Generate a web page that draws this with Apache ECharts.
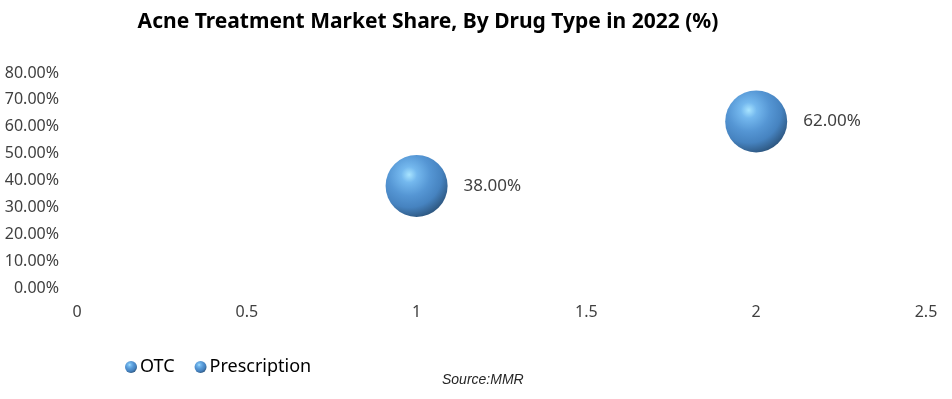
<!DOCTYPE html>
<html>
<head>
<meta charset="utf-8">
<script src="https://cdn.jsdelivr.net/npm/echarts@6/dist/echarts.min.js"></script>
<style>
  html, body { margin: 0; padding: 0; background: #fff; }
  #chart { width: 952px; height: 399px; }
</style>
</head>
<body>
<div id="chart"></div>
<script>
// data
var seriesNames = ['OTC', 'Prescription'];
var xValues = [1, 2];
var shares = [0.38, 0.62];
var xTicks = [0, 0.5, 1, 1.5, 2, 2.5];

var font = 'Noto Sans';

// shiny sphere look
function ball() {
  return new echarts.graphic.RadialGradient(0.38, 0.32, 0.85, [
    { offset: 0, color: '#a8e4ff' },
    { offset: 0.15, color: '#74b8ee' },
    { offset: 0.4, color: '#5596d4' },
    { offset: 0.62, color: '#4683c0' },
    { offset: 0.82, color: '#2f5a85' },
    { offset: 1, color: '#1e3550' }
  ]);
}

var myChart = echarts.init(document.getElementById('chart'));

var series = seriesNames.map(function (name, i) {
  return {
    name: name,
    type: 'scatter',
    symbolSize: 62,
    data: [[xValues[i], shares[i]]],
    itemStyle: { color: ball(), opacity: 1 },
    label: {
      show: true,
      position: 'right',
      distance: 16,
      formatter: function (p) { return (p.value[1] * 100).toFixed(2) + '%'; },
      color: '#404040',
      fontFamily: font,
      fontSize: 17
    },
    emphasis: { disabled: true }
  };
});

myChart.setOption({
  animation: false,
  title: {
    text: 'Acne Treatment Market Share, By Drug Type in 2022 (%)',
    left: 423,
    textAlign: 'center',
    top: 7,
    textStyle: { fontFamily: font, fontWeight: 'bold', fontSize: 21, color: '#000' }
  },
  grid: { left: 77, right: 26, top: 73, bottom: 111 },
  xAxis: {
    type: 'value',
    min: 0,
    max: 2.5,
    interval: 0.5,
    axisLine: { show: false },
    axisTick: { show: false },
    splitLine: { show: false },
    axisLabel: {
      margin: 16,
      color: '#404040',
      fontFamily: font,
      fontSize: 16,
      formatter: function (v) { return xTicks.indexOf(v) >= 0 ? String(v) : ''; }
    }
  },
  yAxis: {
    type: 'value',
    min: 0,
    max: 0.8,
    interval: 0.1,
    axisLine: { show: false },
    axisTick: { show: false },
    splitLine: { show: false },
    axisLabel: {
      margin: 18,
      color: '#404040',
      fontFamily: font,
      fontSize: 16,
      formatter: function (v) { return (v * 100).toFixed(2) + '%'; }
    }
  },
  legend: {
    left: 120,
    top: 353,
    itemWidth: 12,
    itemHeight: 12,
    itemGap: 20,
    icon: 'circle',
    textStyle: { fontFamily: font, fontSize: 18, color: '#000', padding: [0, 0, 0, -2] },
    data: seriesNames
  },
  graphic: [{
    type: 'text',
    left: 442,
    top: 373,
    style: {
      text: 'Source:MMR',
      font: 'italic 14px "Liberation Sans"',
      fill: '#262626'
    }
  }],
  series: series
});
</script>
</body>
</html>
